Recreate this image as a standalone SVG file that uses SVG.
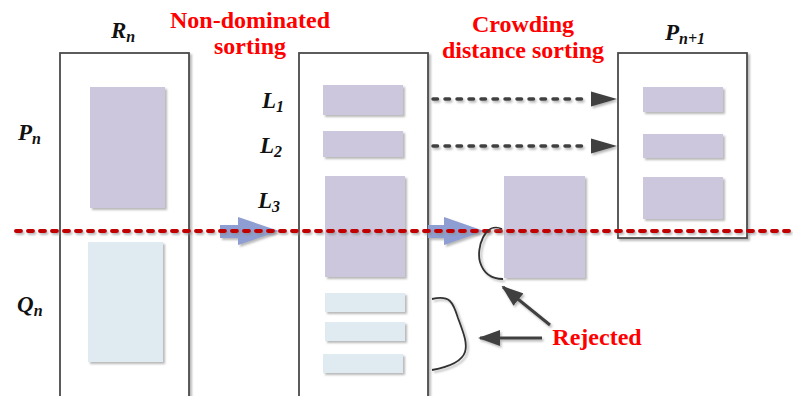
<svg xmlns="http://www.w3.org/2000/svg" width="793" height="396" viewBox="0 0 793 396">
  <style>
    .box { fill: #ffffff; stroke: #4a4a4a; stroke-width: 1.8; }
    .ind { fill: #cdc7dd; }
    .rej { fill: #dfeaf1; }
    .sym { font-family: "Liberation Serif", "Times New Roman", serif; font-weight: bold; font-style: italic; font-size: 23px; fill: #111; }
    .sub { font-size: 16px; }
    .head { font-family: "Liberation Serif", "Times New Roman", serif; font-weight: bold; font-size: 24px; fill: #ff0000; text-anchor: middle; }
    .copy { fill: none; stroke: #404040; stroke-width: 3.5; stroke-dasharray: 4.5 7.5; stroke-linecap: round; }
    .brace { fill: none; stroke: #333; stroke-width: 1.8; }
    .point { fill: none; stroke: #404040; stroke-width: 3; }
    .flow { fill: #8e9ed2; }
  </style>
  <defs>
    <filter id="shade" x="-10%" y="-10%" width="130%" height="130%">
      <feDropShadow dx="2" dy="2" stdDeviation="1" flood-color="#888" flood-opacity="0.6"/>
    </filter>
    <filter id="lineShade" filterUnits="userSpaceOnUse" x="0" y="0" width="793" height="396">
      <feDropShadow dx="1.5" dy="2" stdDeviation="1" flood-color="#888" flood-opacity="0.6"/>
    </filter>
    <marker id="tipMid" markerWidth="22" markerHeight="16" refX="20" refY="8" orient="auto" markerUnits="userSpaceOnUse">
      <path d="M0,0 L22,8 L0,16 Z" fill="#404040"/>
    </marker>
  </defs>

  <!-- R_n : combined population -->
  <g id="Rn">
    <rect class="box" x="60" y="53" width="129" height="360" filter="url(#shade)"/>
    <rect class="ind" x="90" y="87" width="75" height="121" filter="url(#shade)"/>
    <rect class="rej" x="88" y="242" width="75" height="120" filter="url(#shade)"/>
    <text class="sym" x="111" y="38">R<tspan class="sub" dy="4">n</tspan></text>
  </g>

  <!-- side labels -->
  <g id="Pn"><text class="sym" x="18" y="140">P<tspan class="sub" dy="4">n</tspan></text></g>
  <g id="Qn"><text class="sym" x="17" y="312">Q<tspan class="sub" dy="4">n</tspan></text></g>

  <!-- fronts after non-dominated sorting -->
  <g id="fronts">
    <rect class="box" x="299" y="53" width="129" height="360" filter="url(#shade)"/>
    <rect class="ind" x="323" y="85" width="80" height="30" filter="url(#shade)"/>
    <rect class="ind" x="323" y="131" width="80" height="26" filter="url(#shade)"/>
    <rect class="ind" x="325" y="176" width="80" height="101" filter="url(#shade)"/>
    <rect class="rej" x="325" y="293" width="80" height="19" filter="url(#shade)"/>
    <rect class="rej" x="325" y="322" width="80" height="19" filter="url(#shade)"/>
    <rect class="rej" x="323" y="354" width="80" height="19" filter="url(#shade)"/>
    <text class="sym" x="262" y="108">L<tspan class="sub" dy="4">1</tspan></text>
    <text class="sym" x="260" y="153">L<tspan class="sub" dy="4">2</tspan></text>
    <text class="sym" x="258" y="208">L<tspan class="sub" dy="4">3</tspan></text>
  </g>

  <!-- L3 split by crowding distance -->
  <g id="L3split">
    <rect class="ind" x="504" y="176" width="81" height="102" filter="url(#shade)"/>
  </g>

  <!-- P_{n+1} -->
  <g id="Pn1">
    <rect class="box" x="618" y="53" width="129" height="185" filter="url(#shade)"/>
    <rect class="ind" x="643" y="87" width="80" height="25" filter="url(#shade)"/>
    <rect class="ind" x="643" y="134" width="80" height="24" filter="url(#shade)"/>
    <rect class="ind" x="643" y="177" width="80" height="42" filter="url(#shade)"/>
    <text class="sym" x="665" y="40">P<tspan class="sub" dy="4">n+1</tspan></text>
  </g>

  <!-- headings -->
  <g id="headings">
    <text class="head" x="250" y="28">Non-dominated</text>
    <text class="head" x="250" y="54">sorting</text>
    <text class="head" x="523" y="32">Crowding</text>
    <text class="head" x="523" y="58">distance sorting</text>
    <text class="head" x="597" y="345">Rejected</text>
  </g>

  <!-- connectors -->
  <g id="connectors">
    <!-- flow arrows -->
    <path class="flow" d="M220,225 L238,225 L238,217 L279,231 L238,245 L238,238 L220,238 Z" filter="url(#shade)"/>
    <path class="flow" d="M428,225 L444,225 L444,217 L484,231 L444,245 L444,238 L428,238 Z" filter="url(#shade)"/>
    <!-- population cut line -->
    <line x1="16" y1="231" x2="800" y2="231" stroke="#c00000" stroke-width="4" stroke-dasharray="5 7" stroke-linecap="round" filter="url(#lineShade)"/>
    <!-- fronts copied to the next population -->
    <g filter="url(#lineShade)">
      <line class="copy" x1="433" y1="99" x2="588" y2="99"/>
      <line class="copy" x1="433" y1="146" x2="588" y2="146"/>
      <path d="M591,91.5 L617,99 L591,106.5 Z" fill="#404040"/>
      <path d="M591,138.5 L617,146 L591,153.5 Z" fill="#404040"/>
    </g>
    <!-- braces around rejected parts -->
    <path class="brace" d="M502,229 C485,221 476,248 480,262 C484,275 494,279 503,279" filter="url(#shade)"/>
    <path class="brace" d="M432,299 C450,295 453,302 458,318 C468,345 476,362 432,370" filter="url(#shade)"/>
    <!-- rejected pointers -->
    <g filter="url(#lineShade)">
      <line class="point" x1="550" y1="325" x2="503" y2="287" marker-end="url(#tipMid)"/>
      <line class="point" x1="542" y1="338" x2="480" y2="338" marker-end="url(#tipMid)"/>
    </g>
  </g>
</svg>
